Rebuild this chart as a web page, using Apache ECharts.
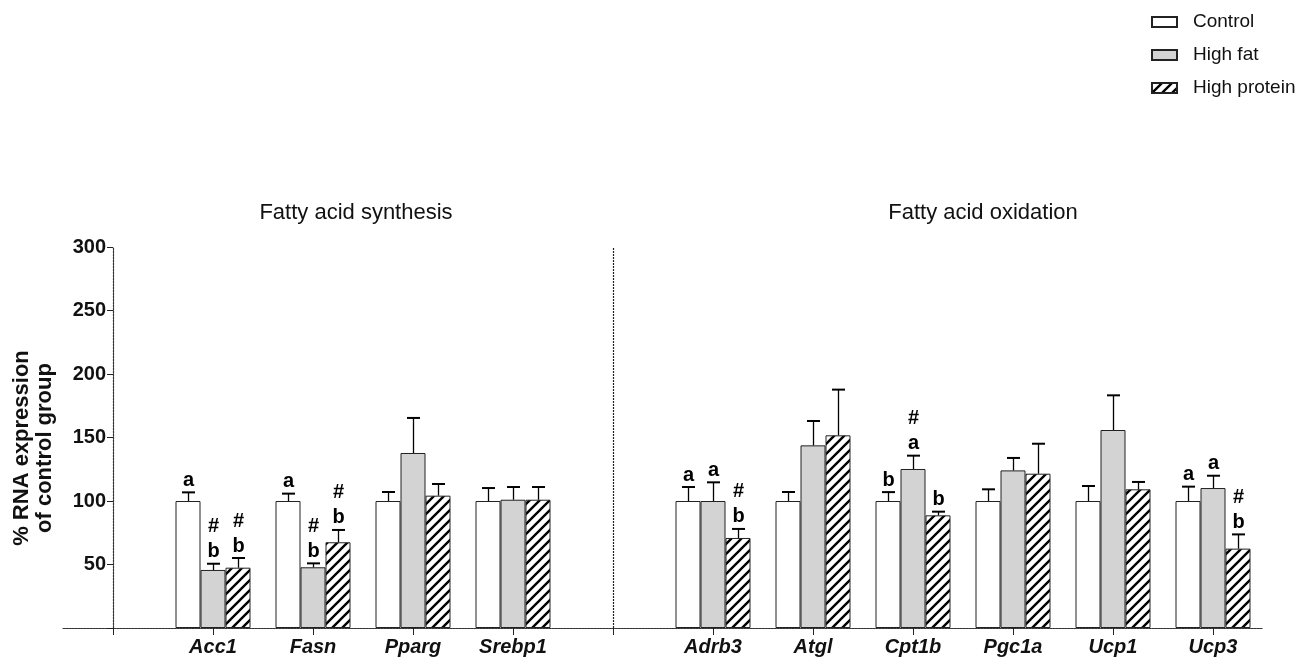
<!DOCTYPE html>
<html><head><meta charset="utf-8">
<script src="https://cdn.jsdelivr.net/npm/echarts@6/dist/echarts.min.js"></script>
<style>html,body{margin:0;padding:0;background:#fff}#c{width:1304px;height:660px}</style>
</head><body><div id="c"></div>
<script>
const categories = ['', 'Acc1', 'Fasn', 'Pparg', 'Srebp1', ' ', 'Adrb3', 'Atgl', 'Cpt1b', 'Pgc1a', 'Ucp1', 'Ucp3'];
const controlMean     = [null, 100, 100, 100, 100, null, 100, 100, 100, 100, 100, 100];
const controlErr      = [null, 6.8, 5.8, 7.1, 10.2, null, 11, 7.1, 7, 9.2, 11.8, 11.3];
const highFatMean     = [null, 45.7, 47.8, 137.8, 101, null, 100, 143.8, 125.2, 124.1, 155.9, 110.2];
const highFatErr      = [null, 4.9, 3.1, 27.6, 10, null, 14.7, 19.2, 10.5, 9.8, 27.3, 9.7];
const highProteinMean = [null, 47.5, 67.5, 104.2, 101, null, 70.9, 151.7, 88.7, 121.5, 109.2, 62.5];
const highProteinErr  = [null, 7.6, 9.7, 9.2, 10, null, 7.1, 36, 2.9, 23.6, 5.8, 11.2];
const controlSig      = ['', 'a', 'a', '', '', '', 'a', '', 'b', '', '', 'a'];
const highFatSig      = ['', '#\nb', '#\nb', '', '', '', 'a', '', '#\na', '', '', 'a'];
const highProteinSig  = ['', '#\nb', '#\nb', '', '', '', '#\nb', '', 'b', '', '', '#\nb'];
const seriesNames = ['Control', 'High fat', 'High protein'];
const sectionTitles = ['Fatty acid synthesis', 'Fatty acid oxidation'];
const yAxisName = '% RNA expression\nof control group';

const FF = '"Liberation Sans", Arial, Helvetica, sans-serif';

function hatchCanvas() {
  const s = 10;
  const c = document.createElement('canvas');
  c.width = s; c.height = s;
  const g = c.getContext('2d');
  g.fillStyle = '#fff'; g.fillRect(0, 0, s, s);
  g.strokeStyle = '#000'; g.lineWidth = 2.4; g.lineCap = 'square';
  g.beginPath();
  g.moveTo(0, s); g.lineTo(s, 0);
  g.moveTo(-s / 2, s / 2); g.lineTo(s / 2, -s / 2);
  g.moveTo(s / 2, s * 1.5); g.lineTo(s * 1.5, s / 2);
  g.stroke();
  return c;
}

function errSeries(name, means, errs, sigs, frac) {
  const data = [], labels = [];
  means.forEach((m, i) => { if (m != null) { data.push([i, m, errs[i]]); labels.push(sigs[i]); } });
  return {
    type: 'custom', name: name + ' error', z: 5, silent: true,
    encode: { x: 0, y: 1 },
    data: data,
    renderItem: function (params, api) {
      const i = api.value(0), m = api.value(1), e = api.value(2);
      const bw = api.size([1, 0])[0];
      const p0 = api.coord([i, m]);
      const p1 = api.coord([i, m + e]);
      const x = Math.round(p0[0] + frac * bw) + 0.5;
      const cap = bw * 0.065;
      return {
        type: 'group',
        children: [
          { type: 'line', shape: { x1: x, y1: p0[1], x2: x, y2: p1[1] }, style: { stroke: '#000', lineWidth: 1.3 } },
          { type: 'line', shape: { x1: x - cap, y1: p1[1], x2: x + cap, y2: p1[1] }, style: { stroke: '#000', lineWidth: 2 } },
          { type: 'text', style: { text: labels[params.dataIndex], x: x, y: p1[1] + 0.5, align: 'center', verticalAlign: 'bottom',
              font: 'bold 20px ' + FF, lineHeight: 25, fill: '#000' } }
        ]
      };
    }
  };
}

const chart = echarts.init(document.getElementById('c'), null, { renderer: 'canvas' });
const barBase = { type: 'bar', barWidth: 25, barGap: '0%' };
const axisLineStyle = { color: '#333', width: 1.2, type: [2, 1] };
const option = {
  animation: false,
  backgroundColor: '#fff',
  title: [
    { text: sectionTitles[0], left: 356, top: 202, textAlign: 'center', padding: 0,
      textStyle: { fontSize: 22, fontWeight: 'normal', color: '#111', fontFamily: FF } },
    { text: sectionTitles[1], left: 983, top: 202, textAlign: 'center', padding: 0,
      textStyle: { fontSize: 22, fontWeight: 'normal', color: '#111', fontFamily: FF } }
  ],
  legend: {
    data: seriesNames, orient: 'vertical', left: 1151, top: 12.5, padding: 0,
    icon: 'rect', itemWidth: 25, itemHeight: 10, itemGap: 14,
    textStyle: { fontSize: 19, color: '#111', fontFamily: FF, padding: [0, 0, 0, 11] }
  },
  grid: { left: 63, right: 41, top: 247, bottom: 32, containLabel: false, outerBoundsMode: 'none' },
  xAxis: {
    type: 'category', data: categories,
    axisLine: { show: true, lineStyle: axisLineStyle },
    axisTick: { show: true, alignWithLabel: true, length: 7, lineStyle: { color: '#222', width: 1 } },
    axisLabel: { interval: 0, margin: 9, fontSize: 20, fontWeight: 'bold', fontStyle: 'italic', color: '#111', fontFamily: FF },
    splitLine: { show: false }
  },
  yAxis: {
    type: 'value', min: 0, max: 300, interval: 50, offset: -50,
    name: yAxisName, nameLocation: 'middle', nameGap: 57, nameRotate: 90,
    nameTextStyle: { fontSize: 22, fontWeight: 'bold', color: '#111', fontFamily: FF, lineHeight: 23, padding: [0, 21, 0, 0] },
    axisLine: { show: true, lineStyle: axisLineStyle },
    axisTick: { show: true, length: 6, lineStyle: { color: '#222', width: 1 } },
    axisLabel: { margin: 7, fontSize: 20, fontWeight: 'bold', color: '#111', fontFamily: FF,
      formatter: v => (v === 0 ? '' : String(v)) },
    splitLine: { show: false }
  },
  series: [
    Object.assign({}, barBase, { name: seriesNames[0], data: controlMean,
      itemStyle: { color: '#fff', borderColor: '#222', borderWidth: 1 } }),
    Object.assign({}, barBase, { name: seriesNames[1], data: highFatMean,
      itemStyle: { color: '#d3d3d3', borderColor: '#222', borderWidth: 1 },
      markLine: { silent: true, symbol: 'none', label: { show: false },
        lineStyle: { color: '#222', width: 1.2, type: [2, 1] }, data: [{ xAxis: 5 }] } }),
    Object.assign({}, barBase, { name: seriesNames[2], data: highProteinMean,
      itemStyle: { color: { image: hatchCanvas(), repeat: 'repeat' }, borderColor: '#222', borderWidth: 1 } }),
    errSeries(seriesNames[0], controlMean, controlErr, controlSig, -0.25),
    errSeries(seriesNames[1], highFatMean, highFatErr, highFatSig, 0),
    errSeries(seriesNames[2], highProteinMean, highProteinErr, highProteinSig, 0.25)
  ]
};
chart.setOption(option);
</script>
</body></html>
